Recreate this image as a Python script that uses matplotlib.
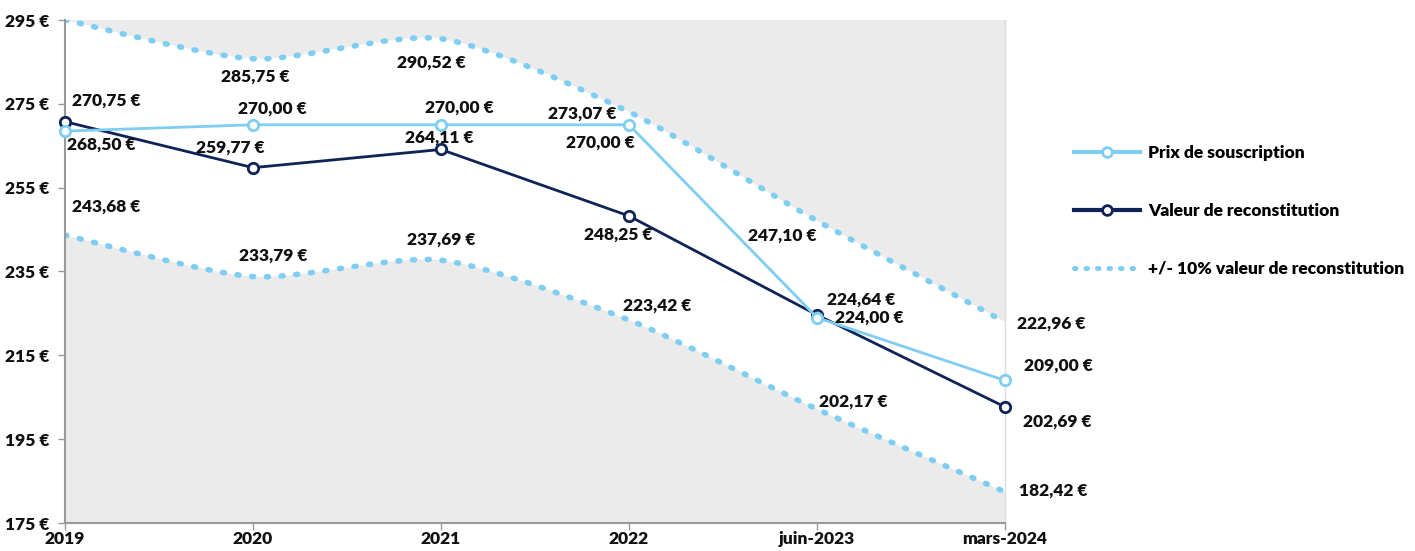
import numpy as np
import matplotlib
matplotlib.use("Agg")
import matplotlib.pyplot as plt
from matplotlib.path import Path
from matplotlib.patches import PathPatch
from matplotlib.lines import Line2D

plt.rcParams['font.family'] = ['Lato', 'DejaVu Sans']
plt.rcParams['font.weight'] = 'heavy'

# data
periods = ['2019', '2020', '2021', '2022', 'juin-2023', 'mars-2024']
prix = [268.50, 270.00, 270.00, 270.00, 224.00, 209.00]
valeur = [270.75, 259.77, 264.11, 248.25, 224.64, 202.69]
upper = [295.0, 285.75, 290.52, 273.07, 247.10, 222.96]
lower = [243.68, 233.79, 237.69, 223.42, 202.17, 182.42]
yticks = [175, 195, 215, 235, 255, 275, 295]

# label offsets in pixels (dx, dy), None = no label
off_prix = [(36, -14), (19, 16), (18, 17), (-29, -18), (52, 0), (53, 15)]
off_val = [(41, 21), (-23, 20), (-2, 12), (-11, -19), (44, 15), (52, -15)]
off_up = [None, (2, -18), (-10, -24), (-47, -2), (-35, -15), (46, -2)]
off_low = [(41, 28), (20, 21), (0, 21), (28, 14), (36, 7), (48, 1)]

LIGHT = '#7ecdf3'
DARK = '#0f2356'
GRAY_BG = '#ebebeb'
FS = 12.5


def fmt(v):
    return ('%.2f' % v).replace('.', ',') + ' €'


def bezier_segments(xs, ys, k=8.0):
    # catmull-rom style control points -> cubic bezier (k sets the tension)
    pts = np.column_stack([xs, ys])
    n = len(pts)
    verts = [pts[0]]
    codes = [Path.MOVETO]
    for i in range(n - 1):
        p0 = pts[max(i - 1, 0)]
        p1 = pts[i]
        p2 = pts[i + 1]
        p3 = pts[min(i + 2, n - 1)]
        c1 = p1 + (p2 - p0) / k
        c2 = p2 - (p3 - p1) / k
        verts += [c1, c2, p2]
        codes += [Path.CURVE4] * 3
    return verts, codes


fig = plt.figure(figsize=(14.15, 5.51), dpi=100)
ax = fig.add_axes([65 / 1415, 28 / 551, 940 / 1415, 503 / 551])
ax.set_facecolor(GRAY_BG)

x = np.arange(len(periods))

# white band between upper and lower curves
uv, uc = bezier_segments(x, upper)
lv, lc = bezier_segments(x, lower)
band_verts = list(uv) + list(lv[::-1]) + [uv[0]]
band_codes = list(uc) + [Path.LINETO] + [Path.CURVE4] * (len(lv) - 1) + [Path.CLOSEPOLY]
ax.add_patch(PathPatch(Path(band_verts, band_codes), facecolor='white', edgecolor='none', zorder=1))

for verts, codes in [(uv, uc), (lv, lc)]:
    ax.add_patch(PathPatch(Path(verts, codes), facecolor='none', edgecolor=LIGHT,
                           lw=4, linestyle=(0, (0.35, 2.3)), capstyle='round', zorder=2))

ax.plot(x, prix, color=LIGHT, lw=2, marker='o', ms=7.5, mfc='white', mec=LIGHT, mew=2,
        zorder=4, clip_on=False)
ax.plot(x, valeur, color=DARK, lw=2, marker='o', ms=7.5, mfc='white', mec=DARK, mew=2,
        zorder=3, clip_on=False)

for vals, offs in [(prix, off_prix), (valeur, off_val), (upper, off_up), (lower, off_low)]:
    for i, (v, o) in enumerate(zip(vals, offs)):
        if o is None:
            continue
        ax.annotate(fmt(v), (x[i], v), xytext=o, textcoords='offset pixels',
                    ha='center', va='center', fontsize=FS, fontweight='heavy',
                    color='#111111', zorder=5, annotation_clip=False)

ax.set_xlim(0, len(periods) - 1)
ax.set_ylim(175, 295)
ax.set_xticks(x)
ax.set_xticklabels(periods, fontsize=FS, fontweight='heavy')
ax.set_yticks(yticks)
ax.set_yticklabels(['%d €' % t for t in yticks], fontsize=FS, fontweight='heavy')
ax.tick_params(axis='both', colors='#999999', labelcolor='#111111', length=5, width=1)
ax.tick_params(axis='x', pad=1)
ax.tick_params(axis='y', pad=6)

ax.spines['top'].set_visible(False)
ax.spines['left'].set_color('#999999')
ax.spines['left'].set_linewidth(1.5)
ax.spines['bottom'].set_color('#999999')
ax.spines['bottom'].set_linewidth(1.5)
ax.spines['right'].set_color('#dddddd')
ax.spines['right'].set_linewidth(1)

handles = [
    Line2D([], [], color=LIGHT, lw=3, marker='o', ms=7, mfc='white', mec=LIGHT, mew=2),
    Line2D([], [], color=DARK, lw=3, marker='o', ms=7, mfc='white', mec=DARK, mew=2),
    Line2D([], [], color=LIGHT, lw=3.6, linestyle=(0, (0.3, 2.0)), dash_capstyle='round'),
]
labels = ['Prix de souscription', 'Valeur de reconstitution', '+/- 10% valeur de reconstitution']
fig.legend(handles, labels, loc='center left', bbox_to_anchor=(1058 / 1415, (551 - 211) / 551),
           frameon=False, prop={'weight': 'heavy', 'size': FS},
           handlelength=3.8, labelspacing=2.4, handletextpad=0.5)

fig.savefig('out.png', dpi=100)
